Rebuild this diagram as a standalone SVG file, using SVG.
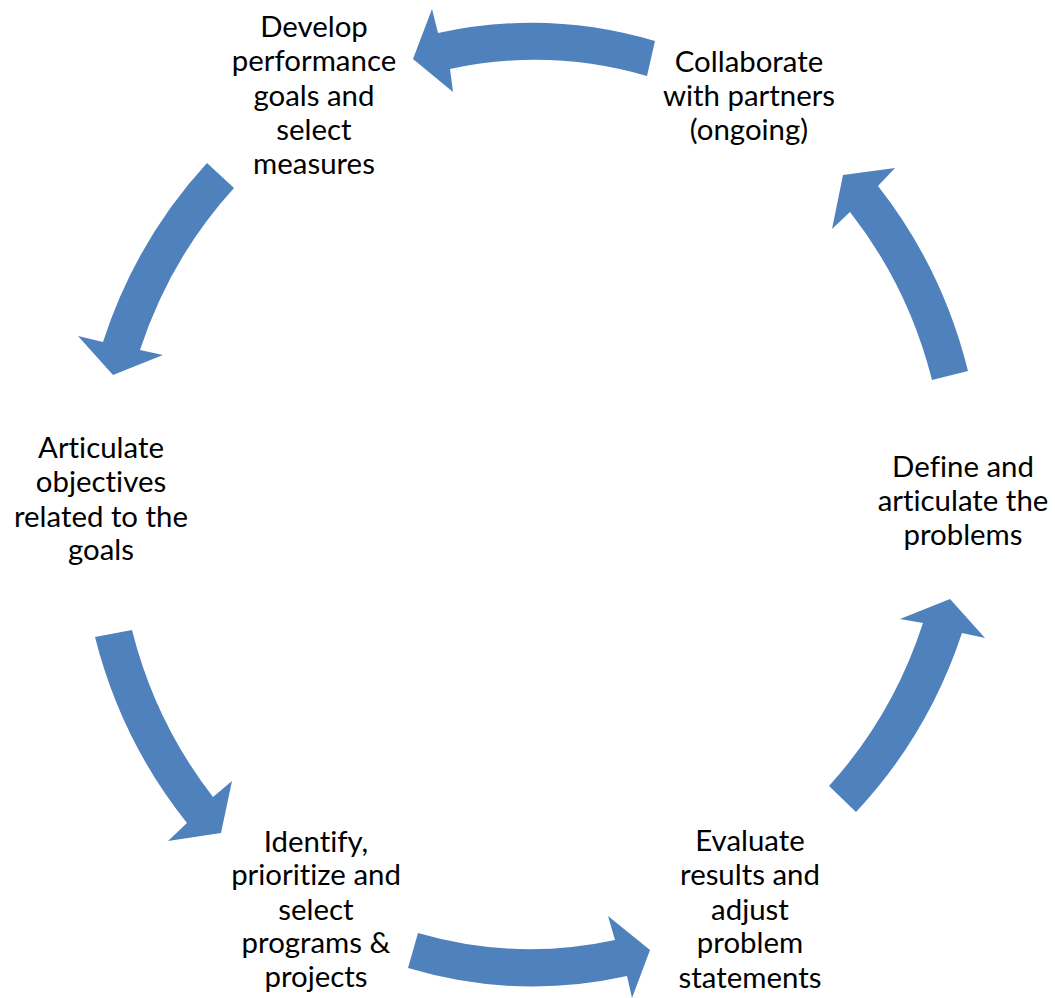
<svg xmlns="http://www.w3.org/2000/svg" width="1055" height="998" viewBox="0 0 1055 998">
<style>
.arr{fill:#4F81BD;stroke:none}
.lbl{font-family:Lato,"Liberation Sans",sans-serif;font-size:29.4px;fill:#000;text-anchor:middle;font-variant-ligatures:none}
</style>
<rect x="0" y="0" width="1055" height="998" fill="#fff"/>
<g id="connectors">
<path class="arr" d="M 968 371 A 457 481 0 0 0 878 186 L 895 168 L 843 175 L 832 229 L 850 212 A 421 443 0 0 1 932 380 Z"/>
<path class="arr" d="M 655 41 A 457 481 0 0 0 438 33 L 432 9 L 413 59 L 453 92 L 450 69 A 421 443 0 0 1 647 76 Z"/>
<path class="arr" d="M 207 163 A 457 481 0 0 0 103 342 L 78 336 L 113 375 L 163 355 L 140 350 A 421 443 0 0 1 234 188 Z"/>
<path class="arr" d="M 95 637 A 457 481 0 0 0 187 823 L 168 841 L 221 833 L 232 781 L 213 797 A 421 443 0 0 1 132 630 Z"/>
<path class="arr" d="M 408 968 A 457 481 0 0 0 627 976 L 632 998 L 650 950 L 608 916 L 615 940 A 421 443 0 0 1 418 933 Z"/>
<path class="arr" d="M 856 812 A 457 481 0 0 0 962 633 L 985 638 L 950 599 L 900 619 L 923 623 A 421 443 0 0 1 829 786 Z"/>
</g>
<g id="node-develop">
<text class="lbl" x="314" y="37">Develop</text>
<text class="lbl" x="314" y="71">performance</text>
<text class="lbl" x="314" y="106">goals and</text>
<text class="lbl" x="314" y="140">select</text>
<text class="lbl" x="314" y="174">measures</text>
</g>
<g id="node-collaborate">
<text class="lbl" x="749" y="72">Collaborate</text>
<text class="lbl" x="749" y="106">with partners</text>
<text class="lbl" x="749" y="140">(ongoing)</text>
</g>
<g id="node-define">
<text class="lbl" x="963" y="477">Define and</text>
<text class="lbl" x="963" y="511">articulate the</text>
<text class="lbl" x="963" y="545">problems</text>
</g>
<g id="node-evaluate">
<text class="lbl" x="750" y="851">Evaluate</text>
<text class="lbl" x="750" y="885">results and</text>
<text class="lbl" x="750" y="920">adjust</text>
<text class="lbl" x="750" y="953">problem</text>
<text class="lbl" x="750" y="988">statements</text>
</g>
<g id="node-identify">
<text class="lbl" x="316" y="852">Identify,</text>
<text class="lbl" x="316" y="885">prioritize and</text>
<text class="lbl" x="316" y="920">select</text>
<text class="lbl" x="316" y="953">programs &amp;</text>
<text class="lbl" x="316" y="987">projects</text>
</g>
<g id="node-articulate">
<text class="lbl" x="101" y="458">Articulate</text>
<text class="lbl" x="101" y="492">objectives</text>
<text class="lbl" x="101" y="527">related to the</text>
<text class="lbl" x="101" y="560">goals</text>
</g>
</svg>
